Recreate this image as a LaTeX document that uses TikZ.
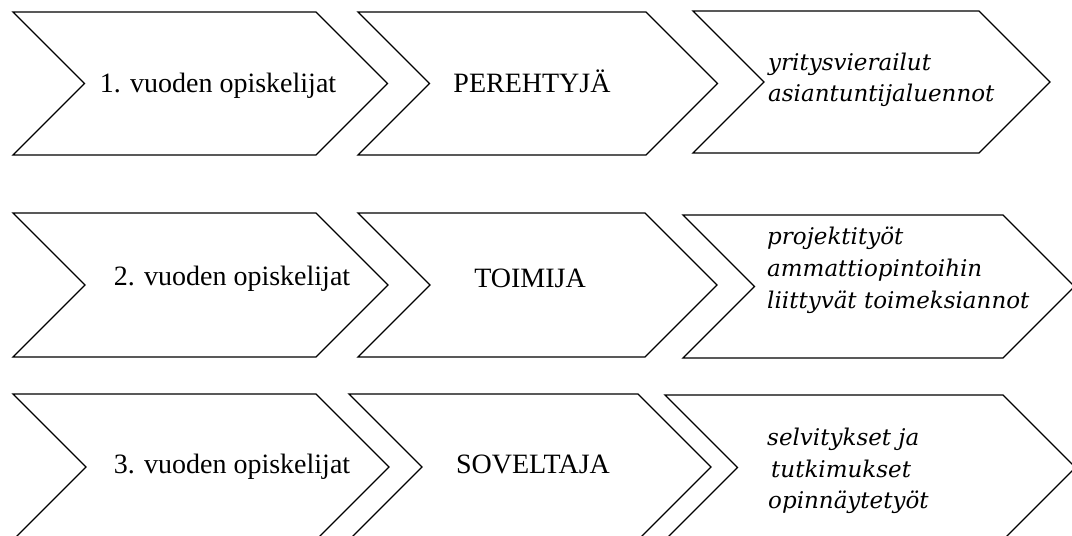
\documentclass[tikz,border=0pt]{standalone}
\usepackage{fontspec}
\setmainfont{Liberation Serif}
% wide serif italic for the activity lists
\newfontfamily\listfont{DejaVu Serif}
% Chevron outline: left x, top-right x, top y, bottom y
\newcommand\chevronshape[4]{%
  \draw[chev] ({#1},{#3}) -- ({#2},{#3}) -- ({#2+(#4-#3)/2},{(#3+#4)/2})
    -- ({#2},{#4}) -- ({#1},{#4}) -- ({#1+(#4-#3)/2},{(#3+#4)/2}) -- cycle;}
\tikzset{
  chev/.style={draw=black, line width=1.3pt, line join=miter, fill=white},
  lbl/.style={anchor=base, inner sep=0pt, font=\fontsize{28}{32}\selectfont},
  ilbl/.style={anchor=base west, inner sep=0pt, font=\listfont\itshape\fontsize{23}{30}\selectfont},
}
\begin{document}
\begin{tikzpicture}[x=1pt, y=-1pt]
  \useasboundingbox (0,0) rectangle (1072,536);
  \clip (0,0) rectangle (1072,536);
  \fill[white] (0,0) rectangle (1072,536);

  % first row
  \chevronshape{13}{316}{12}{155}
  \chevronshape{358}{646}{12}{155}
  \chevronshape{693}{979}{11}{153}
  % second row
  \chevronshape{13}{316}{213}{357}
  \chevronshape{358}{645}{213}{357}
  \chevronshape{683}{1003}{215}{358}
  % third row
  \chevronshape{13}{316}{394}{540}
  \chevronshape{349}{638}{394}{540}
  \chevronshape{665}{1003}{395}{540}

  % first row labels
  \node[lbl] (s1) at (218,92) {1. vuoden opiskelijat};
  \node[lbl] (r1) at (532,92) {PEREHTYJÄ};
  \node[ilbl] (a1a) at (768,70) {yritysvierailut};
  \node[ilbl] (a1b) at (768,101) {asiantuntijaluennot};
  % second row labels
  \node[lbl] (s2) at (232,285) {2. vuoden opiskelijat};
  \node[lbl] (r2) at (530,287) {TOIMIJA};
  \node[ilbl] (a2a) at (767,244) {projektityöt};
  \node[ilbl] (a2b) at (767,276) {ammattiopintoihin};
  \node[ilbl] (a2c) at (767,308) {liittyvät toimeksiannot};
  % third row labels
  \node[lbl] (s3) at (232,473) {3. vuoden opiskelijat};
  \node[lbl] (r3) at (533,473) {SOVELTAJA};
  \node[ilbl] (a3a) at (767,445) {selvitykset ja};
  \node[ilbl] (a3b) at (771,477) {tutkimukset};
  \node[ilbl] (a3c) at (768,508) {opinnäytetyöt};
\end{tikzpicture}
\end{document}
